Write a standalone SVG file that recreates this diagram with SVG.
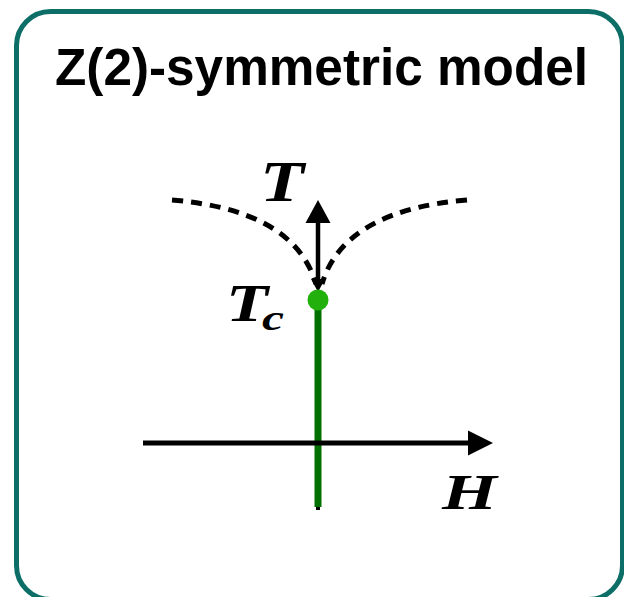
<svg xmlns="http://www.w3.org/2000/svg" width="624" height="597" viewBox="0 0 624 597">
<style>
.math{font-family:"Liberation Serif","DejaVu Serif",serif;font-weight:bold;font-style:italic;fill:#000}
.title{font-family:"Liberation Sans",Arial,sans-serif;font-weight:bold;fill:#000}
.dash{fill:none;stroke:#000;stroke-width:5;stroke-dasharray:11 8}
</style>
<rect x="16.5" y="11.5" width="606" height="588" rx="34" fill="#fff" stroke="#0c6e66" stroke-width="5"/>
<g id="title"><text class="title" x="55" y="85" font-size="51" textLength="533" lengthAdjust="spacingAndGlyphs">Z(2)-symmetric model</text></g>
<g id="connectors">
<path class="dash" d="M172,200 C245,206 300,230 316,284"/>
<path class="dash" d="M467,200 C394,206 338,230 322,284"/>
<line x1="318" y1="300" x2="318" y2="510" stroke="#000" stroke-width="4"/>
<line x1="318" y1="302" x2="318" y2="507" stroke="#007000" stroke-width="7"/>
<line x1="143" y1="443" x2="470" y2="443" stroke="#000" stroke-width="5"/>
<polygon points="493,443 468,430.5 468,455.5" fill="#000"/>
<line x1="318" y1="220" x2="318" y2="282" stroke="#000" stroke-width="4.5"/>
<polygon points="318,200 305.5,223 330.5,223" fill="#000"/>
<polygon points="318,292 311,279 325,279" fill="#000"/>
</g>
<g id="Tc-point"><circle cx="318" cy="300" r="10.5" fill="#22b10c"/></g>
<g id="labels">
<text class="math" x="260" y="201" font-size="56" textLength="44" lengthAdjust="spacingAndGlyphs">T</text>
<text class="math" x="226" y="321" font-size="53" textLength="42" lengthAdjust="spacingAndGlyphs">T</text>
<text class="math" x="262" y="330" font-size="36" textLength="22" lengthAdjust="spacingAndGlyphs">c</text>
<text class="math" x="442" y="509" font-size="50" textLength="55" lengthAdjust="spacingAndGlyphs">H</text>
</g>
</svg>
